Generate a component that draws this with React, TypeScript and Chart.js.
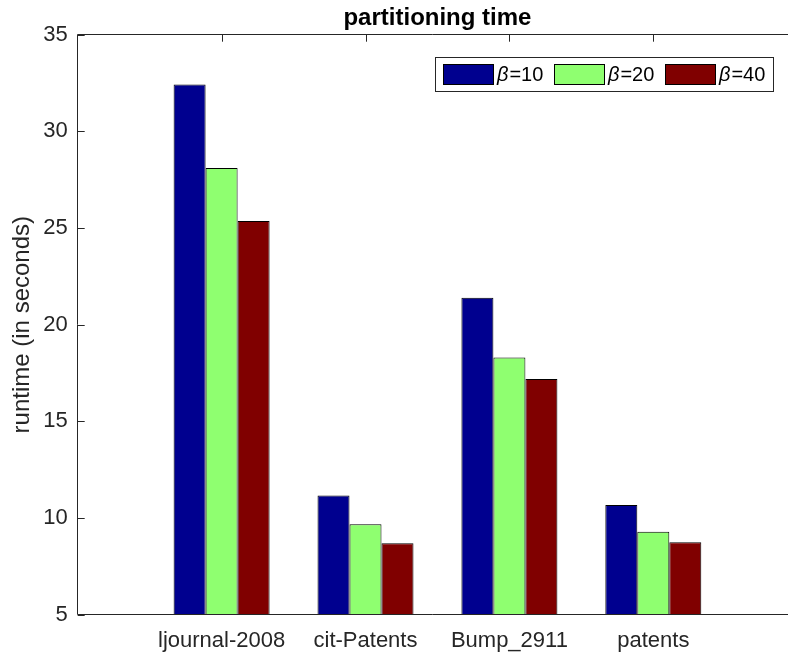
import React, { useEffect, useRef } from "react";
import { Chart, registerables } from "chart.js";

Chart.register(...registerables);

const categories = ["ljournal-2008", "cit-Patents", "Bump_2911", "patents"];
const seriesBetas = ["10", "20", "40"];
const beta10 = [32.42, 11.16, 21.4, 10.67];
const beta20 = [28.1, 9.68, 18.3, 9.29];
const beta40 = [25.37, 8.7, 17.19, 8.75];
const yTicks = [5, 10, 15, 20, 25, 30, 35];
const seriesColors = ["rgb(0,0,143)", "rgb(143,255,112)", "rgb(128,0,0)"];
const titleText = "partitioning time";
const yLabel = "runtime (in seconds)";

const FONT = '"Liberation Sans", Arial, Helvetica, sans-serif';
const AX = "#262626";
const TICK_SIZE = 22;
const TITLE_SIZE = 24;
const LABEL_SIZE = 24;
const LEGEND_SIZE = 20;

const decor = {
  id: "decor",
  beforeDatasetsDraw(chart: any) {
    const { ctx, chartArea: a, scales } = chart;
    ctx.save();
    ctx.strokeStyle = AX;
    ctx.lineWidth = 1;
    ctx.beginPath();
    yTicks.forEach((v) => {
      const y = Math.round(scales.y.getPixelForValue(v)) + 0.5;
      ctx.moveTo(a.left, y);
      ctx.lineTo(a.left + 7, y);
    });
    categories.forEach((_, i) => {
      const x = Math.round(scales.x.getPixelForValue(i + 1)) + 0.5;
      ctx.moveTo(x, a.top);
      ctx.lineTo(x, a.top + 7);
      ctx.moveTo(x, a.bottom);
      ctx.lineTo(x, a.bottom - 7);
    });
    ctx.stroke();
    ctx.restore();
  },
  afterDatasetsDraw(chart: any) {
    const { ctx, chartArea: a } = chart;
    ctx.save();
    ctx.strokeStyle = AX;
    ctx.lineWidth = 1;
    const l = Math.floor(a.left) + 0.5;
    const t = Math.floor(a.top) + 0.5;
    const b = Math.floor(a.bottom) + 0.5;
    ctx.beginPath();
    ctx.moveTo(l, b);
    ctx.lineTo(l, t);
    ctx.lineTo(a.right, t);
    ctx.moveTo(l, b);
    ctx.lineTo(a.right, b);
    ctx.stroke();
    ctx.restore();
  },
  afterDraw(chart: any) {
    const { ctx, chartArea: a, scales } = chart;
    ctx.save();
    const cx = (a.left + scales.x.getPixelForValue(5)) / 2;
    ctx.fillStyle = "#000";
    ctx.font = `bold ${TITLE_SIZE}px ${FONT}`;
    ctx.textAlign = "center";
    ctx.textBaseline = "middle";
    ctx.fillText(titleText, cx, 18);

    const bx = 435.5, by = 57.5, bw = 338, bh = 34;
    ctx.fillStyle = "#fff";
    ctx.fillRect(bx, by, bw, bh);
    ctx.strokeStyle = "#262626";
    ctx.lineWidth = 1;
    ctx.strokeRect(bx, by, bw, bh);
    seriesBetas.forEach((val, i) => {
      const sx = 443 + i * 111;
      ctx.fillStyle = seriesColors[i];
      ctx.fillRect(sx, 64, 50, 20);
      ctx.strokeStyle = "#000";
      ctx.strokeRect(sx + 0.5, 64.5, 50, 20);
      ctx.fillStyle = "#000";
      ctx.textAlign = "left";
      ctx.textBaseline = "middle";
      ctx.font = `italic ${LEGEND_SIZE}px ${FONT}`;
      const tx = sx + 54;
      ctx.fillText("β", tx, 75);
      const w = ctx.measureText("β").width;
      ctx.font = `${LEGEND_SIZE}px ${FONT}`;
      ctx.fillText("=" + val, tx + w + 1, 75);
    });
    ctx.restore();
  },
};

export default function App() {
  const ref = useRef<HTMLCanvasElement>(null);
  useEffect(() => {
    if (!ref.current) return;
    const mk = (d: number[]) => d.map((y, i) => ({ x: i + 1, y }));
    const series = [beta10, beta20, beta40];
    const chart = new Chart(ref.current, {
      type: "bar",
      data: {
        datasets: series.map((d, i) => ({
          label: "β=" + seriesBetas[i],
          data: mk(d),
          backgroundColor: seriesColors[i],
          borderColor: "#000",
          borderWidth: 1,
          borderSkipped: false,
          categoryPercentage: 0.667,
          barPercentage: 1,
        })),
      } as any,
      options: {
        animation: false,
        responsive: false,
        devicePixelRatio: 1,
        layout: { padding: { top: 34.7, left: 0, right: 0, bottom: 0 } },
        plugins: {
          legend: { display: false },
          title: { display: false },
          tooltip: { enabled: false },
        },
        scales: {
          x: {
            type: "linear",
            min: 0,
            max: 4.936,
            offset: false,
            grid: { display: false, drawTicks: false, offset: false },
            border: { display: false },
            afterBuildTicks: (s: any) => {
              s.ticks = categories.map((_, i) => ({ value: i + 1 }));
            },
            afterFit: (s: any) => {
              s.height = 43.3;
            },
            ticks: {
              autoSkip: false,
              maxRotation: 0,
              padding: 13,
              color: AX,
              font: { size: TICK_SIZE, family: FONT },
              callback: (v: any) => categories[Number(v) - 1] ?? "",
            },
          },
          y: {
            type: "linear",
            min: 5,
            max: 35,
            beginAtZero: false,
            grid: { display: false, drawTicks: false },
            border: { display: false },
            afterBuildTicks: (s: any) => {
              s.ticks = yTicks.map((v) => ({ value: v }));
            },
            afterFit: (s: any) => {
              s.width = 77.7;
            },
            ticks: {
              padding: 10,
              color: AX,
              font: { size: TICK_SIZE, family: FONT },
            },
            title: {
              display: true,
              text: yLabel,
              color: AX,
              font: { size: LABEL_SIZE, family: FONT },
              padding: { top: 8, bottom: 0 },
            },
          },
        },
      } as any,
      plugins: [decor],
    });
    return () => chart.destroy();
  }, []);
  return (
    <div style={{ position: "fixed", left: 0, top: 0, width: 788, height: 658, overflow: "hidden", background: "#fff" }}>
      <canvas ref={ref} width={788} height={658} style={{ width: 788, height: 658, display: "block" }} />
    </div>
  );
}
